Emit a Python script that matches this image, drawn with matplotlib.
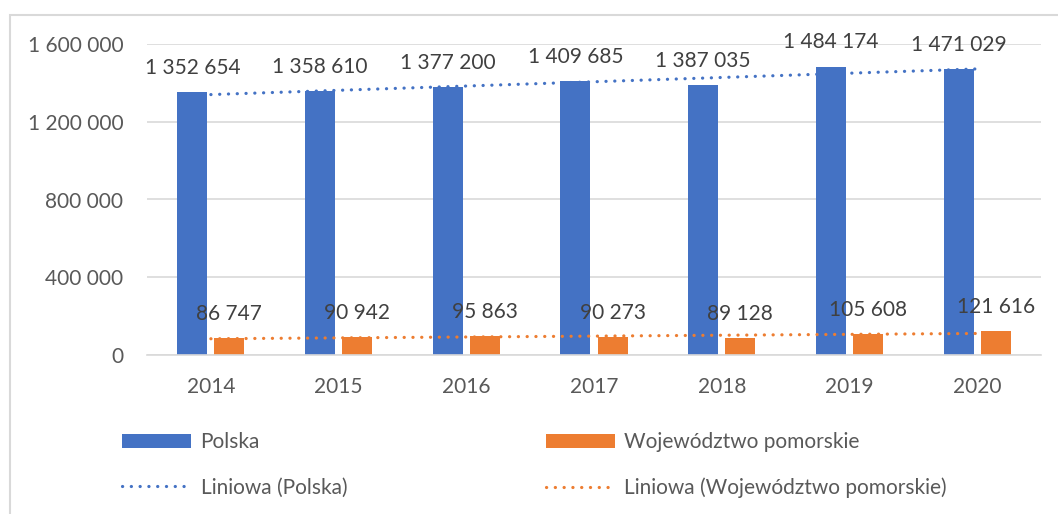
import matplotlib
matplotlib.use("Agg")
import matplotlib.pyplot as plt
import numpy as np
from matplotlib.patches import Rectangle

plt.rcParams['font.family'] = ['Lato', 'DejaVu Sans']

years = ['2014', '2015', '2016', '2017', '2018', '2019', '2020']
polska = [1352654, 1358610, 1377200, 1409685, 1387035, 1484174, 1471029]
pomorskie = [86747, 90942, 95863, 90273, 89128, 105608, 121616]
yticks = [0, 400000, 800000, 1200000, 1600000]

BLUE = '#4472C4'
ORANGE = '#ED7D31'
GRID = '#D9D9D9'
TICK = '#595959'
LABEL = '#404040'
FS = 15

def fmt(v):
    return f"{v:,}".replace(",", " ")

fig = plt.figure(figsize=(10.58, 5.14), dpi=100)
ax = fig.add_axes([147/1058, 1-355/514, (1041-147)/1058, (355-44)/514])

x = np.arange(len(years))
w = 0.235
gap = 0.055
off = (w + gap) / 2
b1 = ax.bar(x - off, polska, width=w, color=BLUE, zorder=2, label='Polska')
b2 = ax.bar(x + off, pomorskie, width=w, color=ORANGE, zorder=2, label='Województwo pomorskie')

for bars, vals in [(b1, polska), (b2, pomorskie)]:
    for rect, v in zip(bars, vals):
        ax.annotate(fmt(v), (rect.get_x() + rect.get_width()/2, rect.get_height()),
                    xytext=(0, 13), textcoords='offset points', ha='center', va='baseline',
                    fontsize=FS, color=LABEL, zorder=4)

DOT = (0, (0.05, 2.7))
# linear trendlines
for vals, col, lab in [(polska, BLUE, 'Liniowa (Polska)'),
                       (pomorskie, ORANGE, 'Liniowa (Województwo pomorskie)')]:
    k, b = np.polyfit(x, vals, 1)
    ax.plot(x, k * x + b, color=col, lw=2.3, linestyle=DOT,
            dash_capstyle='round', zorder=3, label=lab)

ax.set_xlim(-0.5, len(years) - 0.5)
ax.set_ylim(0, 1600000)
ax.set_yticks(yticks)
ax.set_yticklabels([fmt(v) for v in yticks])
ax.set_xticks(x)
ax.set_xticklabels(years)
ax.tick_params(axis='both', length=0, labelsize=FS, labelcolor=TICK)
ax.tick_params(axis='x', pad=16)
ax.tick_params(axis='y', pad=17)
ax.yaxis.grid(True, color=GRID, lw=1.2, zorder=0)
ax.set_axisbelow(True)
for s in ['top', 'right', 'left']:
    ax.spines[s].set_visible(False)
ax.spines['bottom'].set_color(GRID)
ax.spines['bottom'].set_linewidth(1.2)

handles, labels = ax.get_legend_handles_labels()
hd = dict(zip(labels, handles))
seq = ['Polska', 'Liniowa (Polska)', 'Województwo pomorskie', 'Liniowa (Województwo pomorskie)']
leg = fig.legend([hd[s] for s in seq], seq, ncol=2, loc='upper left',
                 bbox_to_anchor=(112/1058, 1-422/514), frameon=False,
                 fontsize=FS, labelcolor=TICK, handlelength=3.3, handleheight=0.7,
                 handletextpad=0.45, columnspacing=9.55, labelspacing=1.2, borderpad=0)

# outer chart border
fig.add_artist(Rectangle((10/1058, -0.1), 1.2, 1-15/514+0.1, transform=fig.transFigure,
                         fill=False, edgecolor=GRID, lw=1.5))

fig.savefig('out.png', dpi=100)
